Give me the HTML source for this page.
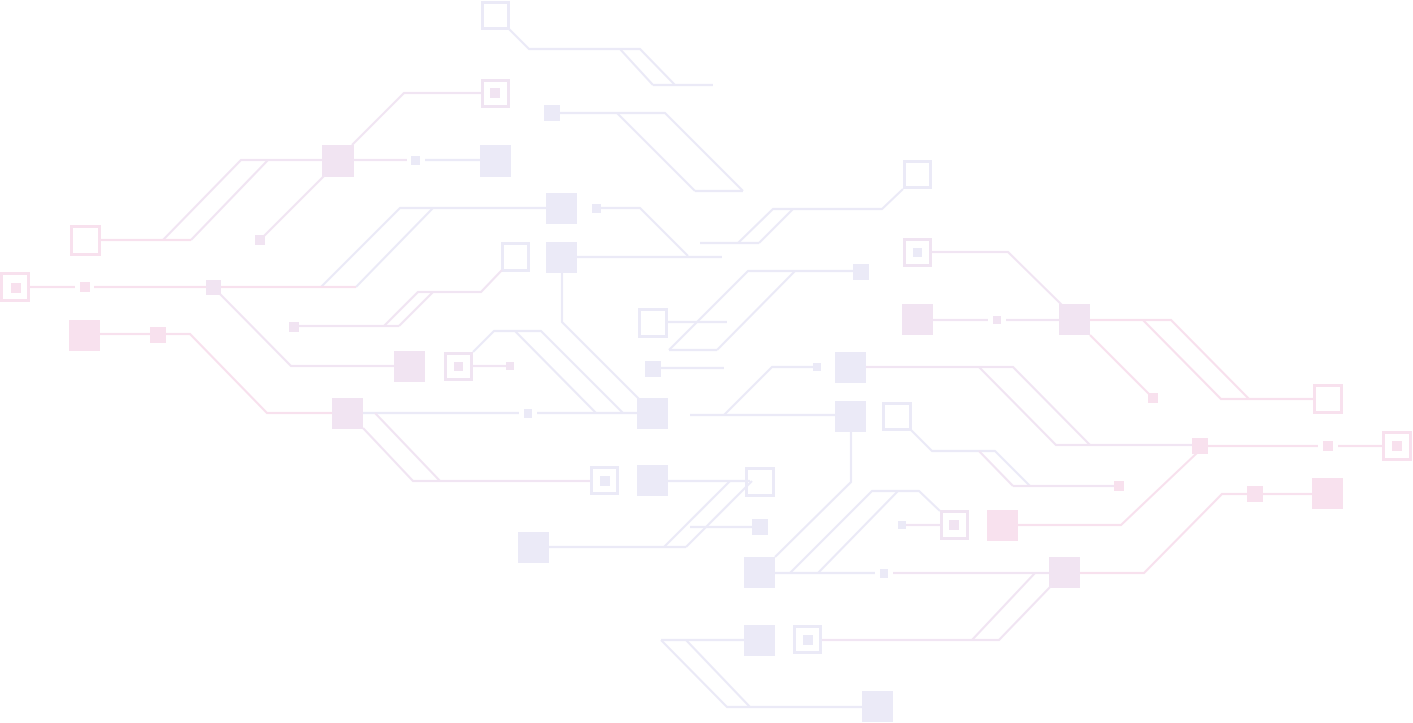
<!DOCTYPE html>
<html><head><meta charset="utf-8"><style>
html,body{margin:0;padding:0;background:#fff;width:1413px;height:723px;overflow:hidden}
svg{display:block}
.p{stroke:#f8e1ee}.l{stroke:#ebeaf7}.m{stroke:#f1e5f3}
line,polyline{fill:none;stroke-width:2.2}
.fp{fill:#f8e1ee}.fl{fill:#ebeaf7}.fm{fill:#f1e4f2}
.hp{fill:none;stroke:#f8e1ee;stroke-width:3}.hl{fill:none;stroke:#ebeaf7;stroke-width:3}.hm{fill:none;stroke:#f0e4f2;stroke-width:3}
</style></head><body>
<svg width="1413" height="723" viewBox="0 0 1413 723" xmlns="http://www.w3.org/2000/svg">
<!-- top -->
<rect class="hl" x="482.5" y="2.5" width="26" height="26"/>
<polyline class="l" points="509,29 529,49 640,49 675,85"/>
<line class="l" x1="620" y1="49" x2="653" y2="85"/><line class="l" x1="653" y1="85" x2="713" y2="85"/>
<rect class="hm" x="482.5" y="80.5" width="26" height="26"/><rect class="fm" x="490" y="88" width="10" height="10"/>
<polyline class="m" points="481,93 404,93 352,145"/>
<rect class="fm" x="322" y="145" width="32" height="32"/>
<line class="m" x1="353" y1="160" x2="407" y2="160"/><rect class="fl" x="411" y="156" width="9" height="9"/>
<line class="l" x1="425" y1="160" x2="480" y2="160"/><rect class="fl" x="480" y="145" width="31" height="32"/>
<polyline class="m" points="322,160 241,160 163,240"/>
<line class="m" x1="268" y1="160" x2="191" y2="240"/>
<line class="p" x1="100" y1="240" x2="191" y2="240"/>
<rect class="hp" x="71.5" y="226.5" width="28" height="28"/>
<line class="m" x1="325" y1="175" x2="264" y2="236"/><rect class="fm" x="255" y="235" width="10" height="10"/>
<rect class="fl" x="544" y="105" width="16" height="16"/>
<polyline class="l" points="560,113 665,113 743,191"/>
<line class="l" x1="617" y1="113" x2="695" y2="191"/><line class="l" x1="695" y1="191" x2="743" y2="191"/>
<!-- mid upper -->
<rect class="fl" x="546" y="193" width="31" height="31"/>
<polyline class="l" points="546,208 400,208 321,287"/>
<line class="l" x1="433" y1="208" x2="356" y2="287"/>
<rect class="fl" x="592" y="204" width="9" height="9"/>
<polyline class="l" points="600,208 640,208 688,256"/>
<rect class="fl" x="546" y="242" width="31" height="31"/>
<line class="l" x1="577" y1="257" x2="722" y2="257"/>
<polyline class="l" points="562,273 562,322 640,400"/>
<rect class="hl" x="502.5" y="243.5" width="26" height="27"/>
<polyline class="m" points="502,270 481,292 418,292 384,326"/>
<line class="m" x1="433" y1="292" x2="399" y2="326"/>
<line class="m" x1="295" y1="326" x2="399" y2="326"/>
<rect class="fm" x="289" y="322" width="10" height="10"/>
<!-- left rows -->
<rect class="hp" x="1.5" y="273.5" width="27" height="27"/><rect class="fp" x="11" y="283" width="10" height="10"/>
<line class="p" x1="30" y1="287" x2="75" y2="287"/><rect class="fp" x="80" y="282" width="10" height="10"/>
<line class="p" x1="94" y1="287" x2="356" y2="287"/><rect class="fm" x="206" y="280" width="15" height="15"/>
<polyline class="m" points="220,294 291,366 394,366"/>
<rect class="fm" x="394" y="351" width="31" height="31"/>
<rect class="hm" x="445.5" y="353.5" width="26" height="26"/><rect class="fm" x="454" y="362" width="9" height="9"/>
<line class="m" x1="473" y1="366" x2="506" y2="366"/><rect class="fm" x="506" y="362" width="8" height="8"/>
<polyline class="l" points="473,352 494,331 541,331 623,413"/>
<line class="l" x1="515" y1="331" x2="596" y2="413"/>
<rect class="fp" x="69" y="320" width="31" height="31"/>
<line class="p" x1="100" y1="334" x2="150" y2="334"/><rect class="fp" x="150" y="327" width="16" height="16"/>
<polyline class="p" points="166,334 190,334 267,413 332,413"/>
<rect class="fm" x="332" y="398" width="31" height="31"/>
<line class="l" x1="363" y1="413" x2="519" y2="413"/><rect class="fl" x="524" y="409" width="8" height="9"/>
<line class="l" x1="537" y1="413" x2="637" y2="413"/><rect class="fl" x="637" y="398" width="31" height="31"/>
<polyline class="m" points="363,428 413,481 590,481"/>
<line class="m" x1="375" y1="413" x2="440" y2="481"/>
<rect class="hl" x="591.5" y="467.5" width="26" height="26"/><rect class="fl" x="600" y="476" width="10" height="10"/>
<rect class="fl" x="637" y="465" width="31" height="31"/>
<line class="l" x1="668" y1="481" x2="750" y2="481"/>
<rect class="hl" x="746.5" y="468.5" width="27" height="27"/>
<line class="l" x1="730" y1="481" x2="664" y2="547"/><line class="l" x1="752" y1="481" x2="686" y2="547"/>
<rect class="fl" x="518" y="532" width="31" height="31"/>
<line class="l" x1="549" y1="547" x2="686" y2="547"/>
<rect class="fl" x="752" y="519" width="16" height="16"/><line class="l" x1="690" y1="527" x2="752" y2="527"/>
<rect class="hl" x="639.5" y="309.5" width="27" height="27"/><line class="l" x1="667" y1="322" x2="727" y2="322"/>
<rect class="fl" x="645" y="361" width="16" height="16"/><line class="l" x1="661" y1="368" x2="724" y2="368"/>
<line class="l" x1="669" y1="350" x2="717" y2="350"/>
<polyline class="l" points="669,350 748,271 853,271"/><line class="l" x1="717" y1="350" x2="795" y2="271"/>
<rect class="fl" x="853" y="264" width="16" height="16"/>
<line class="l" x1="700" y1="243" x2="759" y2="243"/>
<polyline class="l" points="738,243 773,209 882,209 903,189"/><line class="l" x1="759" y1="243" x2="793" y2="209"/>
<rect class="hl" x="904.5" y="161.5" width="26" height="26"/>
<!-- right -->
<line class="l" x1="690" y1="415" x2="835" y2="415"/>
<polyline class="l" points="724,415 772,367 813,367"/><rect class="fl" x="813" y="363" width="8" height="8"/>
<rect class="fl" x="835" y="352" width="31" height="31"/>
<polyline class="m" points="866,367 1013,367 1090,445"/>
<polyline class="m" points="979,367 1056,445 1192,445"/>
<rect class="fp" x="1192" y="438" width="16" height="16"/>
<line class="p" x1="1207" y1="446" x2="1318" y2="446"/><rect class="fp" x="1323" y="441" width="10" height="10"/>
<line class="p" x1="1338" y1="446" x2="1382" y2="446"/>
<rect class="hp" x="1383.5" y="432.5" width="27" height="27"/><rect class="fp" x="1392" y="441" width="10" height="10"/>
<rect class="fl" x="835" y="401" width="31" height="31"/>
<polyline class="l" points="851,432 851,482 775,557"/>
<rect class="fl" x="744" y="557" width="31" height="31"/>
<line class="l" x1="775" y1="573" x2="875" y2="573"/><rect class="fl" x="880" y="569" width="8" height="9"/>
<line class="m" x1="893" y1="573" x2="1049" y2="573"/>
<rect class="fm" x="1049" y="557" width="31" height="31"/>
<polyline class="p" points="1080,573 1144,573 1222,494 1247,494"/>
<rect class="fp" x="1247" y="486" width="16" height="16"/>
<line class="p" x1="1262" y1="494" x2="1312" y2="494"/><rect class="fp" x="1312" y="478" width="31" height="31"/>
<polyline class="m" points="1052,585 999,640 822,640"/><line class="m" x1="1035" y1="573" x2="972" y2="640"/>
<rect class="hl" x="794.5" y="626.5" width="26" height="26"/><rect class="fl" x="803" y="635" width="10" height="10"/>
<rect class="fl" x="744" y="625" width="31" height="31"/>
<line class="l" x1="661" y1="640" x2="744" y2="640"/>
<polyline class="l" points="661,640 727,707 862,707"/><line class="l" x1="686" y1="640" x2="750" y2="707"/>
<rect class="fl" x="862" y="691" width="31" height="31"/>
<polyline class="l" points="790,573 872,491 919,491 940,511"/><line class="l" x1="818" y1="573" x2="898" y2="491"/>
<rect class="hm" x="941.5" y="511.5" width="26" height="27"/><rect class="fm" x="949" y="520" width="10" height="10"/>
<line class="m" x1="940" y1="525" x2="906" y2="525"/><rect class="fl" x="898" y="521" width="8" height="8"/>
<rect class="fp" x="987" y="510" width="31" height="31"/>
<polyline class="p" points="1018,525 1121,525 1198,452"/>
<rect class="hl" x="883.5" y="403.5" width="27" height="26"/>
<polyline class="l" points="911,430 932,451 995,451 1030,486"/><line class="m" x1="979" y1="451" x2="1013" y2="486"/>
<line class="m" x1="1013" y1="486" x2="1114" y2="486"/><rect class="fp" x="1114" y="481" width="10" height="10"/>
<rect class="hm" x="904.5" y="239.5" width="26" height="26"/><rect class="fl" x="913" y="248" width="9" height="9"/>
<polyline class="m" points="932,252 1008,252 1063,306"/>
<rect class="fm" x="1059" y="304" width="31" height="31"/>
<rect class="fm" x="902" y="304" width="31" height="31"/>
<line class="m" x1="933" y1="320" x2="988" y2="320"/><rect class="fm" x="993" y="316" width="8" height="8"/>
<line class="m" x1="1006" y1="320" x2="1059" y2="320"/>
<polyline class="p" points="1090,320 1171,320 1249,399"/>
<polyline class="p" points="1143,320 1221,399 1313,399"/>
<rect class="hp" x="1314.5" y="385.5" width="27" height="27"/>
<line class="p" x1="1090" y1="335" x2="1150" y2="395"/><rect class="fp" x="1148" y="393" width="10" height="10"/>
</svg>
</body></html>
